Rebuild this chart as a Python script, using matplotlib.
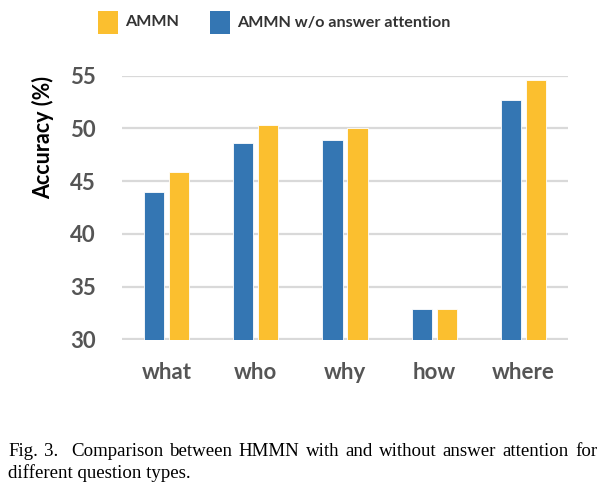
import matplotlib
matplotlib.use("Agg")
import matplotlib.pyplot as plt
import numpy as np
from matplotlib.patches import Rectangle

categories = ["what", "who", "why", "how", "where"]
ammn_wo = [44.0, 48.6, 48.9, 32.9, 52.7]
ammn = [45.9, 50.3, 50.0, 32.9, 54.6]
yticks = [30, 35, 40, 45, 50, 55]
series_names = ["AMMN", "AMMN w/o answer attention"]
caption_line1 = "Fig. 3.  Comparison between HMMN with and without answer attention for"
caption_line2 = "different question types."

BLUE = "#3476B3"
YELLOW = "#FBBF2F"
GRAY = "#595959"
GRID = "#D9D9D9"

W, H = 607, 487
fig = plt.figure(figsize=(W / 100, H / 100), dpi=100)
ax = fig.add_axes([122 / W, 1 - 339.5 / H, 446 / W, (339.5 - 75.7) / H])

x = np.arange(len(categories))
bw = 0.225
off = 0.14
ax.bar(x - off, ammn_wo, bw, color=BLUE, edgecolor="#FFFFFF", linewidth=0.6, zorder=3)
ax.bar(x + off, ammn, bw, color=YELLOW, edgecolor="#FFFFFF", linewidth=0.6, zorder=3)

ax.set_xlim(-0.5, 4.5)
ax.set_ylim(30, 55)
ax.set_yticks(yticks)
ax.set_yticklabels([str(v) for v in yticks])
ax.set_xticks(x)
ax.set_xticklabels(categories)
ax.yaxis.grid(True, color=GRID, linewidth=1.6, zorder=0)
ax.set_axisbelow(True)
for s in ax.spines.values():
    s.set_visible(False)
ax.tick_params(axis="both", length=0)
ax.tick_params(axis="y", pad=19)
ax.tick_params(axis="x", pad=16.5)
for lab in ax.get_yticklabels() + ax.get_xticklabels():
    lab.set_fontfamily("Lato")
    lab.set_fontweight("bold")
    lab.set_fontsize(16)
    lab.set_color("#555555")

fig.text(43 / W, 1 - 137.5 / H, "Accuracy (%)", rotation=90, ha="center", va="center",
         fontfamily="Lato", fontweight="bold", fontsize=15.5, color="black")

# legend drawn manually
leg_items = [(YELLOW, series_names[0], 98), (BLUE, series_names[1], 210)]
for col, name, x0 in leg_items:
    fig.patches.append(Rectangle((x0 / W, 1 - 34 / H), 20 / W, 23 / H, transform=fig.transFigure,
                                 facecolor=col, edgecolor="none"))
    fig.text((x0 + 27) / W, 1 - 22.5 / H, name, ha="left", va="center", fontfamily="Lato",
             fontweight="bold", fontsize=11.6, color="#333333")

# caption, first line justified
fig.canvas.draw()
r = fig.canvas.get_renderer()
words = caption_line1.split(" ")
fs = 13.6
widths = []
for w_ in words:
    if w_:
        t = fig.text(0, 0, w_, fontfamily="Liberation Serif", fontsize=fs)
        widths.append(t.get_window_extent(r).width)
        t.remove()
    else:
        widths.append(0.0)
left, right = 8, 597
space = (right - left - sum(widths)) / (len(words) - 1)
xpos = left
for w_, wd in zip(words, widths):
    if w_:
        fig.text(xpos / W, 1 - 452 / H, w_, ha="left", va="center", fontfamily="Liberation Serif",
                 fontsize=fs, color="black")
    xpos += wd + space
fig.text(left / W, 1 - 473 / H, caption_line2, ha="left", va="center",
         fontfamily="Liberation Serif", fontsize=fs, color="black")

fig.savefig("out.png", dpi=100)
